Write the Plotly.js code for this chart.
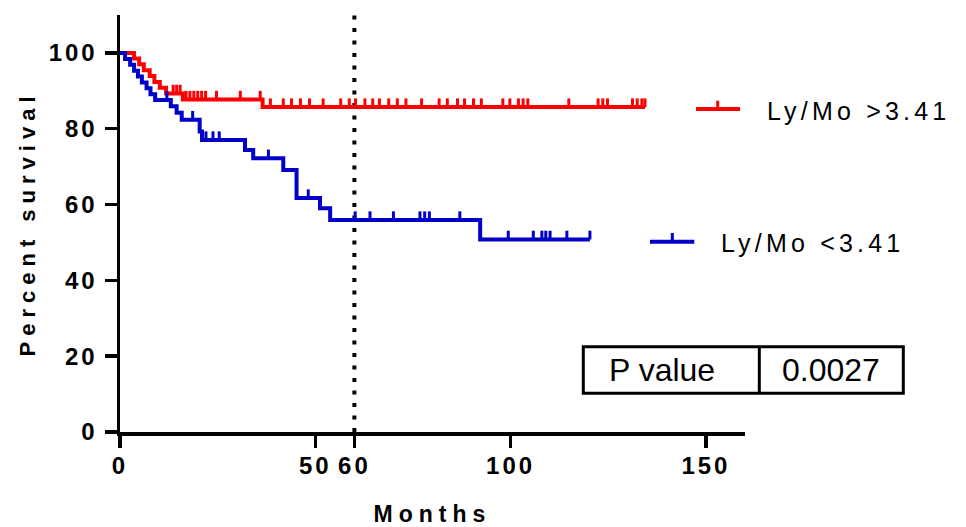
<!DOCTYPE html>
<html><head><meta charset="utf-8">
<script src="https://cdn.plot.ly/plotly-3.0.1.min.js"></script>
<style>
html,body{margin:0;padding:0;background:#fff;}
#chart{width:966px;height:527px;}
g.xtick text, g.ytick text{letter-spacing:3px;}
text.ytitle{letter-spacing:6px;}
text.xtitle{letter-spacing:6px;}
g.annotation[data-index="0"] text, g.annotation[data-index="1"] text{letter-spacing:4.2px;}
</style></head><body><div id="chart"></div>
<script>
// ---- data ----
const groupNames = ["Ly/Mo >3.41", "Ly/Mo <3.41"];

// Ly/Mo > 3.41 (red)
const redEventMonths   = [3.6, 4.9, 6.1, 7.6, 8.8, 10.2, 11.8, 16.1, 36.5];
const redEventSurvival = [98.5, 97.0, 95.4, 93.9, 92.3, 90.8, 89.3, 87.7, 85.7];
const redCensorMonths  = [13.6, 14.5, 15.4, 16.9, 17.9, 18.9, 19.9, 20.9, 21.9, 24.7, 30.8, 35.9,
  38.5, 41.8, 43.9, 46.2, 48.5, 52.0, 56.5, 58.7, 60.3, 62.7, 64.7, 66.4, 68.8, 71.0, 73.2,
  77.2, 81.7, 83.8, 86.4, 88.2, 90.5, 92.5, 98.0, 99.8, 102.0, 103.2, 104.4, 114.9,
  122.4, 123.6, 124.8, 131.2, 132.4, 133.6, 134.4];
const redLastMonth = 134.4;

// Ly/Mo < 3.41 (blue)
const blueEventMonths   = [1.3, 2.6, 3.6, 4.6, 5.6, 6.8, 7.8, 9.0, 13.0, 14.5, 15.8, 20.4, 21.0,
  32.0, 34.1, 41.8, 45.2, 51.2, 53.8, 92.2];
const blueEventSurvival = [98.4, 96.9, 95.3, 93.8, 92.2, 90.7, 89.1, 87.6, 85.9, 84.2, 82.4, 79.3, 77.0,
  74.4, 72.2, 69.1, 61.7, 59.0, 55.9, 50.8];
const blueCensorMonths  = [12.0, 18.6, 22.0, 23.8, 25.4, 38.0, 48.2, 60.2, 64.0, 70.0, 76.8, 78.0, 79.2,
  87.0, 99.4, 105.8, 108.0, 109.0, 110.1, 114.4, 120.3];
const blueLastMonth = 120.3;

const xTickVals = [0, 50, 60, 100, 150];
const yTickVals = [0, 20, 40, 60, 80, 100];
const cutoffMonth = 60;
const pValueLabel = "P value";
const pValueText = "0.0027";

// ---- helpers ----
const RED = "#ff0000", BLUE = "#0000c8";
const TICK_H = 2.3;
function survivalAt(t, evT, evS) {
  let s = 100;
  for (let i = 0; i < evT.length; i++) if (evT[i] <= t) s = evS[i];
  return s;
}
function stepXY(evT, evS, endT) {
  return { x: [0].concat(evT, [endT]), y: [100].concat(evS, [evS[evS.length - 1]]) };
}
function censorXY(cT, evT, evS) {
  const x = [], y = [];
  cT.forEach(t => { const s = survivalAt(t, evT, evS); x.push(t, t, null); y.push(s, s + TICK_H, null); });
  return { x, y };
}

const rs = stepXY(redEventMonths, redEventSurvival, redLastMonth);
const bs = stepXY(blueEventMonths, blueEventSurvival, blueLastMonth);
const rc = censorXY(redCensorMonths, redEventMonths, redEventSurvival);
const bc = censorXY(blueCensorMonths, blueEventMonths, blueEventSurvival);

const traces = [
  { x: rs.x, y: rs.y, mode: "lines", line: { shape: "hv", color: RED, width: 4 }, name: groupNames[0], showlegend: false, hoverinfo: "skip" },
  { x: rc.x, y: rc.y, mode: "lines", line: { color: RED, width: 3 }, showlegend: false, hoverinfo: "skip" },
  { x: bs.x, y: bs.y, mode: "lines", line: { shape: "hv", color: BLUE, width: 4 }, name: groupNames[1], showlegend: false, hoverinfo: "skip" },
  { x: bc.x, y: bc.y, mode: "lines", line: { color: BLUE, width: 3 }, showlegend: false, hoverinfo: "skip" }
];

const FONT = "Liberation Sans, Arial, Helvetica, sans-serif";
const axisCommon = {
  showline: true, linewidth: 3.5, linecolor: "#000", mirror: false,
  ticks: "outside", ticklen: 12, tickwidth: 3.5, tickcolor: "#000",
  showgrid: false, zeroline: false, fixedrange: true,
  tickfont: { family: FONT, size: 24, weight: "bold", color: "#000" }
};

const legendShapes = [
  { type: "line", xref: "paper", yref: "paper", x0: 0.9216, x1: 0.992, y0: 0.7746, y1: 0.7746, line: { color: RED, width: 4 } },
  { type: "line", xref: "paper", yref: "paper", x0: 0.9563, x1: 0.9563, y0: 0.7746, y1: 0.7945, line: { color: RED, width: 3 } },
  { type: "line", xref: "paper", yref: "paper", x0: 0.848, x1: 0.9189, y0: 0.4564, y1: 0.4564, line: { color: BLUE, width: 4 } },
  { type: "line", xref: "paper", yref: "paper", x0: 0.8837, x1: 0.8837, y0: 0.4564, y1: 0.4772, line: { color: BLUE, width: 3 } }
];
const tableShapes = [
  { type: "rect", xref: "paper", yref: "paper", x0: 0.7413, x1: 1.2533, y0: 0.0928, y1: 0.2046, line: { color: "#000", width: 3 }, fillcolor: "rgba(0,0,0,0)" },
  { type: "line", xref: "paper", yref: "paper", x0: 1.0229, x1: 1.0229, y0: 0.0928, y1: 0.2046, line: { color: "#000", width: 3 } }
];
const cutoffShape = { type: "line", xref: "x", yref: "paper", x0: cutoffMonth, x1: cutoffMonth, y0: 0, y1: 1.007,
  line: { color: "#000", width: 4, dash: "4px,8.5px" }, layer: "below" };

const layout = {
  width: 966, height: 527,
  margin: { l: 120, r: 221, t: 15, b: 95 },
  paper_bgcolor: "#fff", plot_bgcolor: "#fff",
  showlegend: false,
  xaxis: Object.assign({}, axisCommon, {
    range: [0, 160], tickmode: "array", tickvals: xTickVals, ticklabelstandoff: -2,
    title: { text: "Months", font: { family: FONT, size: 23, weight: "bold", color: "#000" }, standoff: 28 }
  }),
  yaxis: Object.assign({}, axisCommon, {
    range: [0, 110], tickmode: "array", tickvals: yTickVals, ticklabelstandoff: 2,
    title: { text: "Percent survival", font: { family: FONT, size: 22, weight: "bold", color: "#000" }, standoff: 8 }
  }),
  shapes: [cutoffShape].concat(legendShapes, tableShapes),
  annotations: [
    { xref: "paper", yref: "paper", x: 1.0347, y: 0.7698, xanchor: "left", yanchor: "middle", xshift: 21, showarrow: false,
      text: groupNames[0], font: { family: FONT, size: 25, color: "#000" } },
    { xref: "paper", yref: "paper", x: 0.9616, y: 0.4532, xanchor: "left", yanchor: "middle", xshift: 21, showarrow: false,
      text: groupNames[1], font: { family: FONT, size: 25, color: "#000" } },
    { xref: "paper", yref: "paper", x: 0.867, y: 0.1487, xanchor: "center", yanchor: "middle", showarrow: false,
      text: pValueLabel, font: { family: FONT, size: 32, color: "#000" } },
    { xref: "paper", yref: "paper", x: 1.1376, y: 0.1487, xanchor: "center", yanchor: "middle", showarrow: false,
      text: pValueText, font: { family: FONT, size: 32, color: "#000" } }
  ]
};

Plotly.newPlot("chart", traces, layout, { displayModeBar: false, staticPlot: true });
</script></body></html>
